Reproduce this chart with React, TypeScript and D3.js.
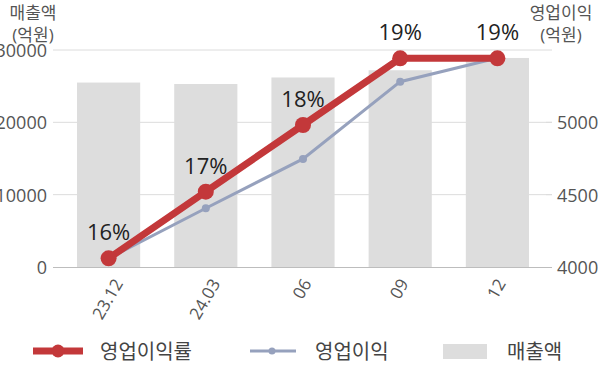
import React from "react";
import * as d3 from "d3";

const categories = ["23.12", "24.03", "06", "09", "12"];
const sales = [25500, 25300, 26200, 27200, 28900];
const profit = [4060, 4406, 4747, 5281, 5445];
const margin = [16, 17, 18, 19, 19];
const leftTicks = [0, 10000, 20000, 30000];
const rightTicks = [4000, 4500, 5000];

const W = 600;
const H = 383;
const FONT = "'Open Sans', 'Noto Sans CJK KR', sans-serif";
const RED = "#c3383a";
const BLUE = "#96a1bd";
const BAR = "#dddddd";

function measure(text: string, size: number) {
  if (typeof document === "undefined") return text.length * size * 0.56;
  const c = document.createElement("canvas").getContext("2d");
  if (!c) return text.length * size * 0.56;
  c.font = `${size}px 'Open Sans'`;
  return c.measureText(text).width;
}

export default function App() {
  const x = d3.scaleBand<string>().domain(categories).range([60, 546]).paddingInner(0.35).paddingOuter(0.175);
  const yL = d3.scaleLinear().domain([0, 30000]).range([267, 50]);
  const yR = d3.scaleLinear().domain([4000, 5500]).range([267, 50]);
  const yP = d3.scaleLinear().domain([15.87, 19.125]).range([267, 50]);
  const cx = (c: string) => (x(c) ?? 0) + x.bandwidth() / 2;

  const lineProfit = d3.line<number>().x((_, i) => cx(categories[i])).y((d) => yR(d));
  const lineMargin = d3.line<number>().x((_, i) => cx(categories[i])).y((d) => yP(d));

  const gx0 = 53;
  const gx1 = 552;
  const xfs = 17;

  return (
    <svg width={W} height={H} style={{ position: "absolute", left: 0, top: 0, fontFamily: FONT }}>
      {/* grid lines */}
      {leftTicks.slice(1).map((t) => (
        <line key={t} x1={gx0} x2={gx1} y1={yL(t)} y2={yL(t)} stroke="#dcdcdc" strokeWidth={1} />
      ))}
      {rightTicks.slice(1).map((t) => (
        <line key={"r" + t} x1={gx1 - 6} x2={gx1} y1={yR(t)} y2={yR(t)} stroke="#dcdcdc" strokeWidth={1} />
      ))}
      {/* bars */}
      {categories.map((c, i) => (
        <rect key={c} x={x(c)} y={yL(sales[i])} width={x.bandwidth()} height={yL(0) - yL(sales[i])} fill={BAR} />
      ))}
      {/* baseline */}
      <line x1={gx0} x2={gx1} y1={yL(0) + 0.5} y2={yL(0) + 0.5} stroke="#bdbdbd" strokeWidth={1} />

      {/* left ticks */}
      {leftTicks.map((t) => (
        <text key={t} x={47} y={yL(t)} textAnchor="end" dominantBaseline="central" fontSize={18} fill="#555">
          {t}
        </text>
      ))}
      {/* right ticks */}
      {rightTicks.map((t) => (
        <text key={t} x={557} y={yR(t)} textAnchor="start" dominantBaseline="central" fontSize={18} fill="#555">
          {t}
        </text>
      ))}

      {/* axis titles */}
      <text x={33} y={12} textAnchor="middle" dominantBaseline="central" fontSize={17} fill="#555">매출액</text>
      <text x={33} y={34} textAnchor="middle" dominantBaseline="central" fontSize={17} fill="#555">(억원)</text>
      <text x={561} y={12} textAnchor="middle" dominantBaseline="central" fontSize={17} fill="#555">영업이익</text>
      <text x={561} y={34} textAnchor="middle" dominantBaseline="central" fontSize={17} fill="#555">(억원)</text>

      {/* x labels */}
      {categories.map((c) => {
        const L = measure(c, xfs);
        const h = xfs * 0.72;
        const half = (L * Math.sin(Math.PI / 3) + h * Math.cos(Math.PI / 3)) / 2;
        return (
          <text
            key={c}
            transform={`translate(${cx(c) - 1.5},${277 + half}) rotate(-60)`}
            textAnchor="middle"
            dominantBaseline="central"
            fontSize={xfs}
            fill="#555"
          >
            {c}
          </text>
        );
      })}

      {/* profit line */}
      <path d={lineProfit(profit) ?? ""} fill="none" stroke={BLUE} strokeWidth={3} />
      {profit.map((v, i) => (
        <circle key={i} cx={cx(categories[i])} cy={yR(v)} r={4} fill={BLUE} />
      ))}

      {/* margin line */}
      <path d={lineMargin(margin) ?? ""} fill="none" stroke={RED} strokeWidth={7} strokeLinejoin="round" />
      {margin.map((v, i) => (
        <circle key={i} cx={cx(categories[i])} cy={yP(v)} r={8} fill={RED} />
      ))}
      {margin.map((v, i) => (
        <text key={"l" + i} x={cx(categories[i])} y={yP(v) - 18} textAnchor="middle" fontSize={22} fill="#222">
          {v}%
        </text>
      ))}

      {/* legend */}
      <g>
        <line x1={33} x2={83} y1={351} y2={351} stroke={RED} strokeWidth={7} />
        <circle cx={58} cy={351} r={6.5} fill={RED} />
        <text x={100} y={351} dominantBaseline="central" fontSize={20} fill="#444">영업이익률</text>
        <line x1={250} x2={296} y1={351} y2={351} stroke={BLUE} strokeWidth={3} />
        <circle cx={272} cy={351} r={3.5} fill={BLUE} />
        <text x={315} y={351} dominantBaseline="central" fontSize={20} fill="#444">영업이익</text>
        <rect x={443} y={344} width={44} height={15} fill={BAR} />
        <text x={507} y={351} dominantBaseline="central" fontSize={20} fill="#444">매출액</text>
      </g>
    </svg>
  );
}
